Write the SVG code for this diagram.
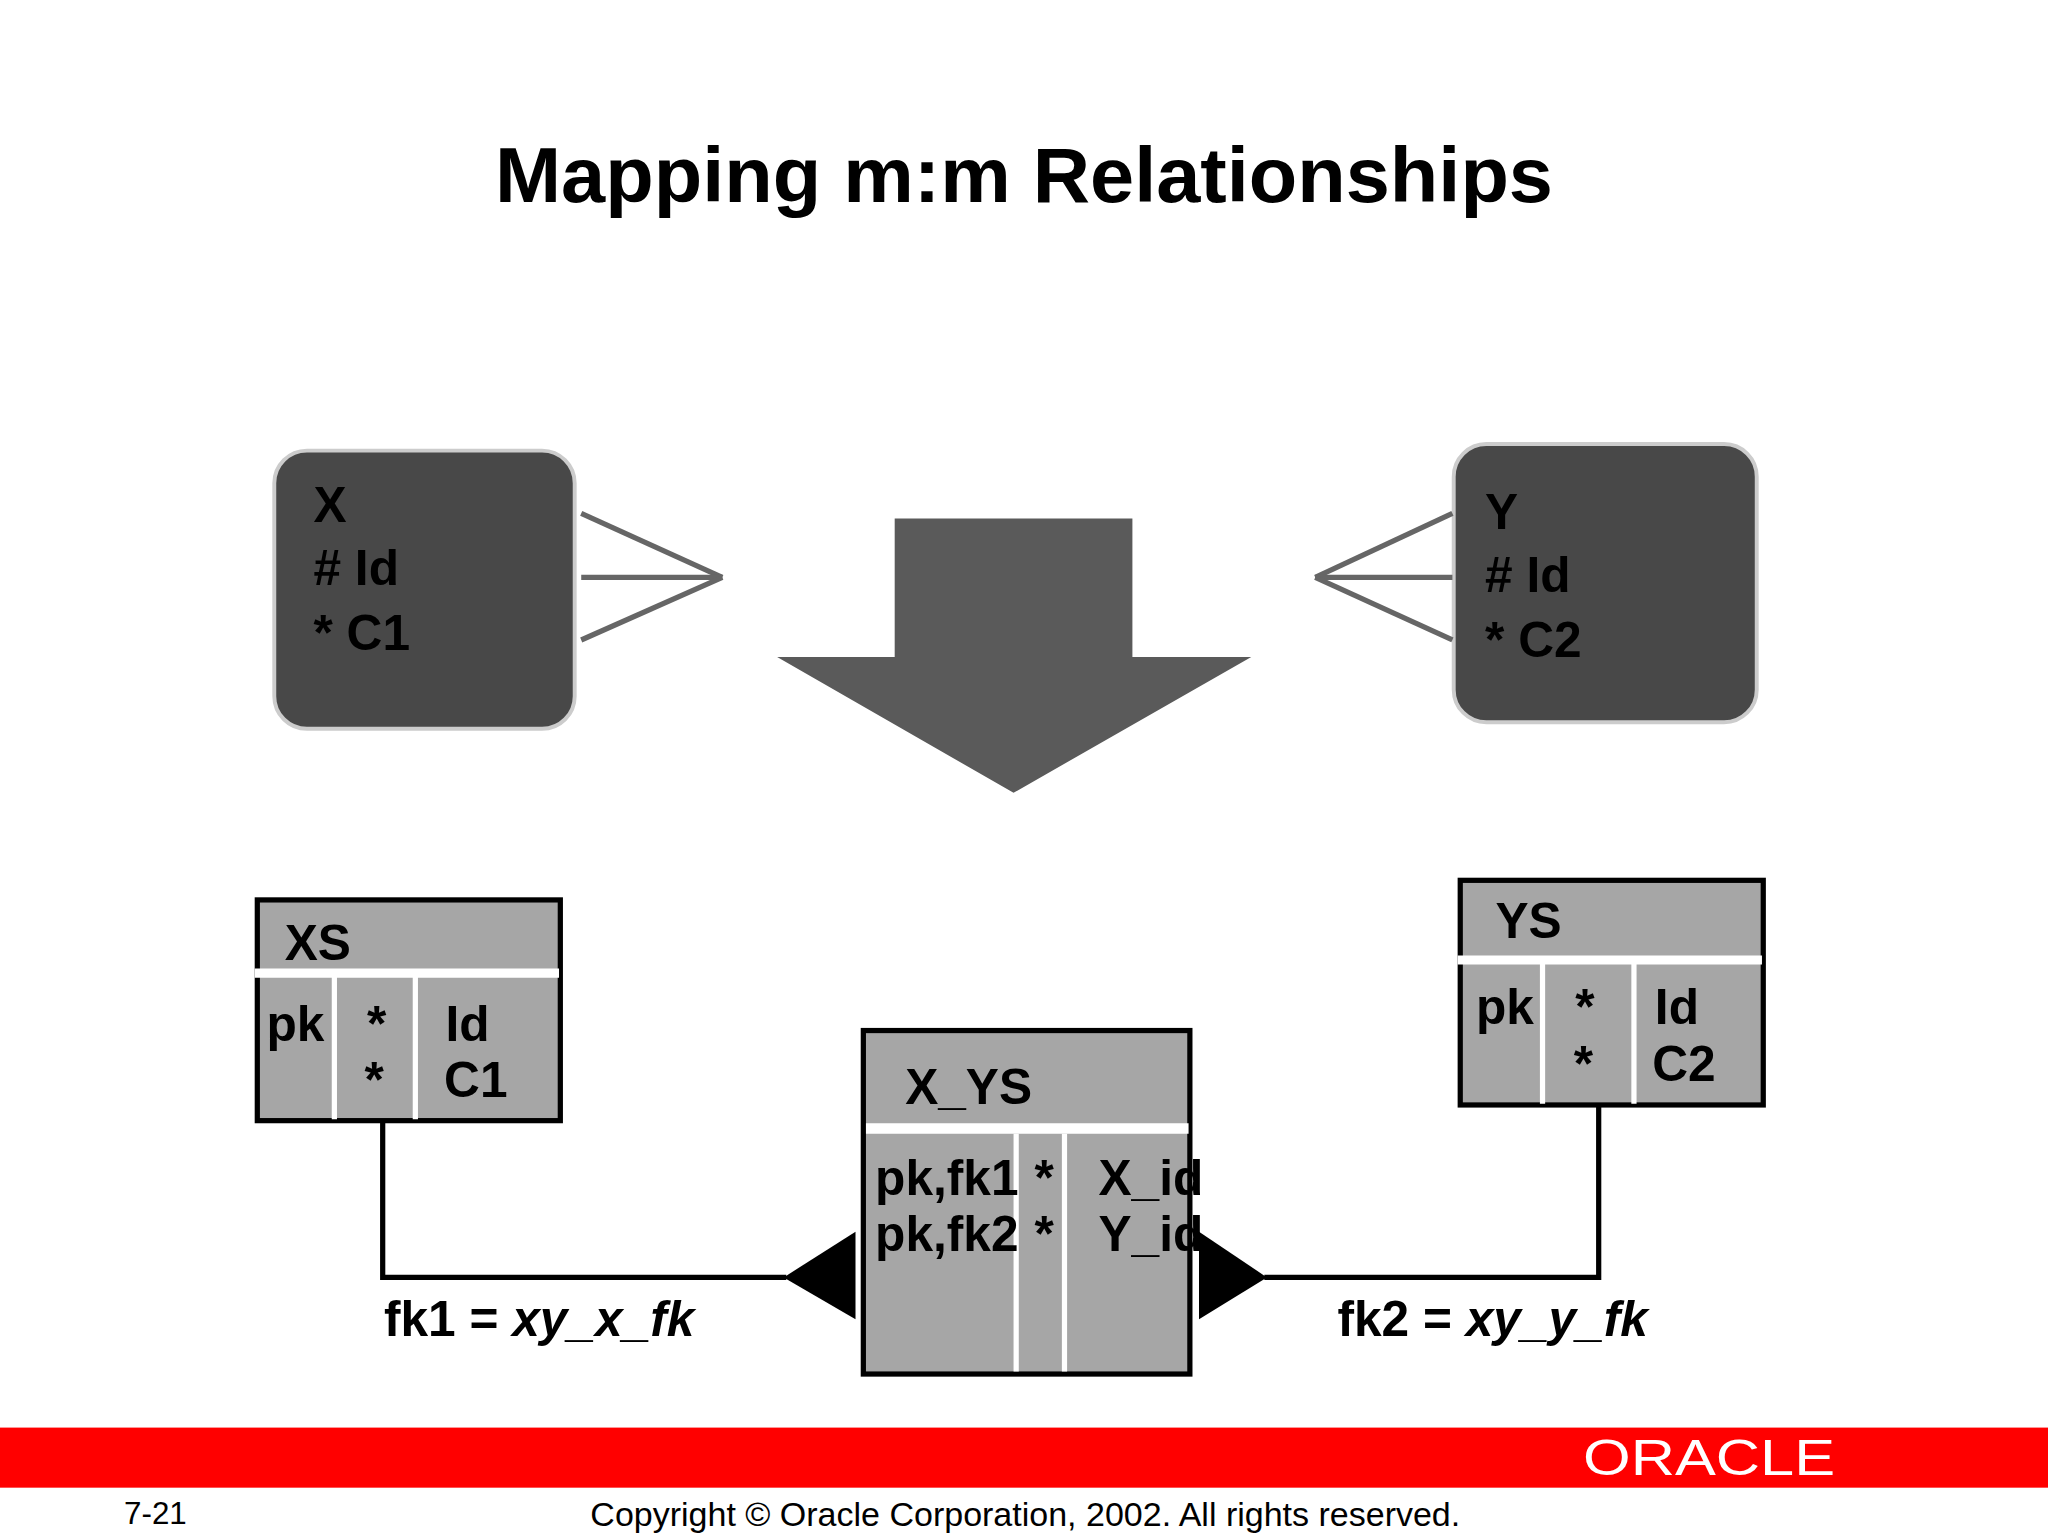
<svg xmlns="http://www.w3.org/2000/svg" width="2048" height="1536" viewBox="0 0 2048 1536">
<style>
text{font-family:"Liberation Sans",Arial,sans-serif;font-weight:bold;fill:#000}
.t{font-size:38px}
.tb{fill:#a6a6a6;stroke:#000;stroke-width:4}
.w{stroke:#fff}
.c{fill:none;stroke:#000;stroke-width:4}
.cf{stroke:#666;stroke-width:4}
</style>
<rect width="2048" height="1536" fill="#fff"/>
<g transform="scale(1.30612)">
<text x="784" y="155" font-size="60" text-anchor="middle" textLength="810" lengthAdjust="spacingAndGlyphs">Mapping m:m Relationships</text>
<g id="X">
<rect x="210" y="345" width="230" height="213" rx="25" fill="#484848" stroke="#ccc" stroke-width="3"/>
<text class="t" x="240" y="400">X</text><text class="t" x="240" y="448"># Id</text><text class="t" x="240" y="498">* C1</text>
</g>
<g id="Y">
<rect x="1113" y="340" width="232" height="213" rx="25" fill="#484848" stroke="#ccc" stroke-width="3"/>
<text class="t" x="1137" y="405">Y</text><text class="t" x="1137" y="453"># Id</text><text class="t" x="1137" y="503">* C2</text>
</g>
<g id="arrow"><polygon points="685,397 867,397 867,503 958,503 776,607 595,503 685,503" fill="#5a5a5a"/></g>
<g id="XS">
<rect class="tb" x="197" y="689" width="232" height="169"/>
<line class="w" x1="195" y1="745" x2="428" y2="745" stroke-width="7"/>
<line class="w" x1="256" y1="748" x2="256" y2="857" stroke-width="4"/>
<line class="w" x1="318" y1="748" x2="318" y2="857" stroke-width="4"/>
<text class="t" x="218" y="735">XS</text>
<text class="t" x="204" y="797">pk</text><text class="t" x="281" y="797">*</text><text class="t" x="279" y="840">*</text>
<text class="t" x="341" y="797">Id</text><text class="t" x="340" y="840">C1</text>
</g>
<g id="YS">
<rect class="tb" x="1118" y="674" width="232" height="172"/>
<line class="w" x1="1116" y1="735" x2="1349" y2="735" stroke-width="7"/>
<line class="w" x1="1181" y1="738" x2="1181" y2="845" stroke-width="4"/>
<line class="w" x1="1251" y1="738" x2="1251" y2="845" stroke-width="4"/>
<text class="t" x="1145" y="718">YS</text>
<text class="t" x="1130" y="784">pk</text><text class="t" x="1206" y="784">*</text><text class="t" x="1205" y="828">*</text>
<text class="t" x="1267" y="784">Id</text><text class="t" x="1265" y="828">C2</text>
</g>
<g id="X_YS">
<rect class="tb" x="661" y="789" width="250" height="263"/>
<line class="w" x1="663" y1="864" x2="910" y2="864" stroke-width="8"/>
<line class="w" x1="778" y1="868" x2="778" y2="1050" stroke-width="4"/>
<line class="w" x1="815" y1="868" x2="815" y2="1050" stroke-width="4"/>
<text class="t" x="693" y="845">X_YS</text>
<text class="t" x="670" y="915">pk,fk1</text><text class="t" x="792" y="915">*</text><text class="t" x="841" y="915">X_id</text>
<text class="t" x="670" y="958">pk,fk2</text><text class="t" x="792" y="958">*</text><text class="t" x="841" y="958">Y_id</text>
</g>
<g id="connectors">
<line class="cf" x1="445" y1="393" x2="553" y2="442"/><line class="cf" x1="445" y1="442" x2="553" y2="442"/><line class="cf" x1="445" y1="490" x2="553" y2="442"/>
<line class="cf" x1="1112" y1="393" x2="1007" y2="442"/><line class="cf" x1="1112" y1="442" x2="1007" y2="442"/><line class="cf" x1="1112" y1="490" x2="1007" y2="442"/>
<polyline class="c" points="293,858 293,978 602,978"/>
<polygon points="600,978 655,943 655,1010"/>
<polyline class="c" points="1224,846 1224,978 968,978"/>
<polygon points="970,978 918,943 918,1010"/>
<text class="t" x="294" y="1023">fk1 = <tspan font-style="italic">xy_x_fk</tspan></text>
<text class="t" x="1024" y="1023">fk2 = <tspan font-style="italic">xy_y_fk</tspan></text>
</g>
<rect x="0" y="1093" width="1568" height="46" fill="#ff0000"/>
<text x="1212" y="1129" font-size="38" style="fill:#fff;font-weight:normal" textLength="193" lengthAdjust="spacingAndGlyphs">ORACLE</text>
<text x="95" y="1167" font-size="24" style="font-weight:normal">7-21</text>
<text x="452" y="1168" font-size="25" style="font-weight:normal" textLength="666" lengthAdjust="spacingAndGlyphs">Copyright © Oracle Corporation, 2002. All rights reserved.</text>
</g>
</svg>
